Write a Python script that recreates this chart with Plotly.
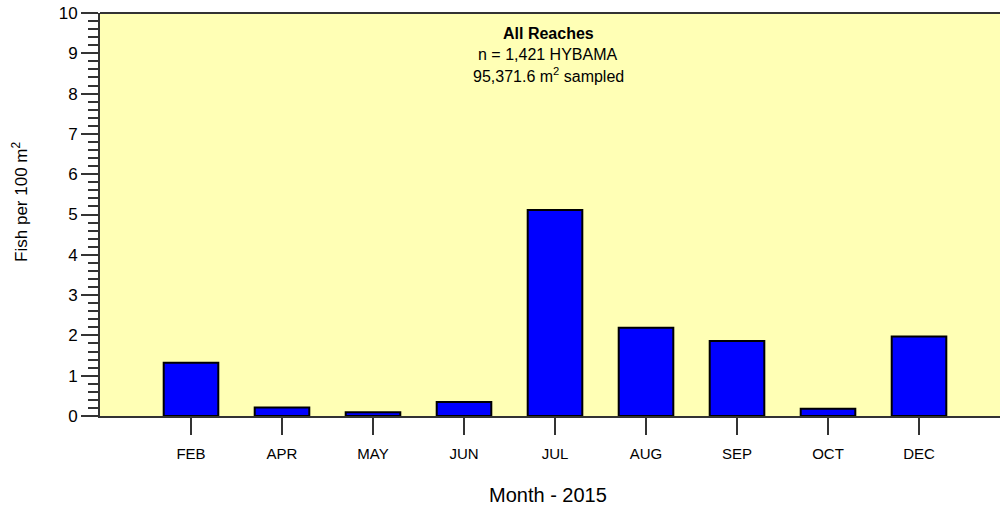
import plotly.graph_objects as go

months = ["FEB", "APR", "MAY", "JUN", "JUL", "AUG", "SEP", "OCT", "DEC"]
fish_per_100m2 = [1.32, 0.21, 0.09, 0.35, 5.11, 2.19, 1.86, 0.18, 1.97]
y_ticks = list(range(0, 11))

fig = go.Figure()
fig.add_trace(go.Bar(
    x=list(range(len(months))),
    y=fish_per_100m2,
    width=0.6,
    marker=dict(color="#0000FF", line=dict(color="black", width=2)),
))

fig.update_layout(
    width=1000, height=508,
    margin=dict(l=100, r=0, t=13, b=92),
    paper_bgcolor="white",
    plot_bgcolor="#FFFFB5",
    showlegend=False,
    font=dict(family="Arial, Liberation Sans, sans-serif", color="black"),
    xaxis=dict(
        range=[-1, 8.89],
        tickmode="array",
        tickvals=list(range(len(months))),
        ticktext=months,
        ticks="outside", ticklen=17, tickwidth=1.5, tickcolor="#333",
        ticklabelstandoff=6,
        showline=True, linecolor="#333", linewidth=2,
        showgrid=False, zeroline=False,
        tickfont=dict(size=15),
    ),
    yaxis=dict(
        range=[0, 10],
        tickmode="array",
        tickvals=y_ticks,
        ticks="outside", ticklen=17, tickwidth=1.5, tickcolor="#333",
        minor=dict(dtick=0.2, ticks="outside", ticklen=10, tickwidth=1.5, tickcolor="#333"),
        showline=True, linecolor="#333", linewidth=2,
        showgrid=False, zeroline=False,
        tickfont=dict(size=17),
    ),
)

fig.add_shape(type="line", xref="paper", yref="paper", x0=0, x1=1, y0=1, y1=1,
              line=dict(color="#333", width=2))

# axis titles
fig.add_annotation(xref="paper", yref="paper", x=0.498, y=-0.196, yanchor="middle",
                   text="Month - 2015", showarrow=False, font=dict(size=20))
fig.add_annotation(xref="paper", yref="paper", x=-0.089, y=0.531,
                   xanchor="center", yanchor="middle", textangle=-90,
                   text="Fish per 100 m<sup>2</sup>", showarrow=False, font=dict(size=17))

# header text
fig.add_annotation(xref="paper", yref="paper", x=0.498, y=0.948, yanchor="middle",
                   text="<b>All Reaches</b>", showarrow=False, font=dict(size=16))
fig.add_annotation(xref="paper", yref="paper", x=0.498, y=0.896, yanchor="middle",
                   text="n = 1,421 HYBAMA", showarrow=False, font=dict(size=16))
fig.add_annotation(xref="paper", yref="paper", x=0.498, y=0.845, yanchor="middle",
                   text="95,371.6 m<sup>2</sup> sampled", showarrow=False, font=dict(size=16))

fig.write_html("out.html", config={"displayModeBar": False},
               post_script="document.body.style.margin='0';")
